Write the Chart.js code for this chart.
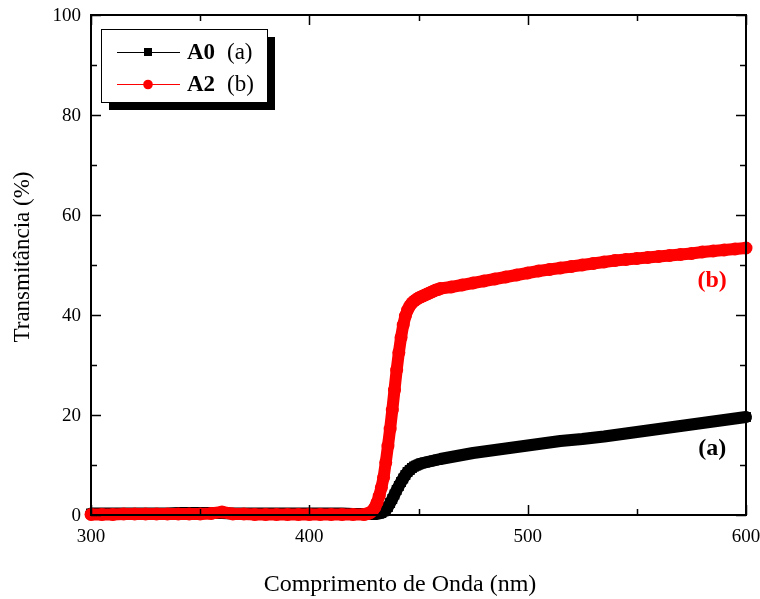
<!DOCTYPE html>
<html>
<head>
<meta charset="utf-8">
<script src="https://cdn.jsdelivr.net/npm/chart.js@4.4.0/dist/chart.umd.min.js"></script>
<style>
  html, body { margin: 0; padding: 0; background: #fff; }
  #wrap { width: 760px; height: 599px; }
</style>
</head>
<body>
<div id="wrap"><canvas id="c" width="760" height="599"></canvas></div>
<script>
// ---- data ----
const wavelengths = [
  300,305,310,315,320,325,330,335,340,345,350,355,360,365,370,375,380,385,390,395,400,405,410,415,420,425,
  426,427,428,429,430,431,432,433,434,435,436,437,438,439,440,441,442,443,444,445,446,447,448,449,450,
  451,452,453,454,455,456,457,458,459,460,
  465,470,475,480,485,490,495,500,505,510,515,520,525,530,535,540,545,550,555,560,565,570,575,580,585,590,595,600
];
const transA0 = [
  0.3,0.3,0.3,0.3,0.3,0.3,0.3,0.3,0.4,0.4,0.4,0.4,0.4,0.3,0.3,0.3,0.3,0.3,0.3,0.3,0.3,0.3,0.3,0.3,0.2,0.2,
  0.2,0.2,0.2,0.2,0.2,0.2,0.3,0.4,0.7,1.0,1.6,2.4,3.2,4.1,5.0,5.8,6.6,7.3,8.0,8.6,9.0,9.4,9.7,9.9,10.1,
  10.3,10.4,10.5,10.6,10.7,10.8,10.9,11.0,11.1,11.2,
  11.6,12.0,12.4,12.7,13.0,13.3,13.6,13.9,14.2,14.5,14.8,15.0,15.2,15.45,15.7,16.0,16.3,16.6,16.9,17.2,17.5,17.8,18.1,18.4,18.7,19.0,19.3,19.6
];
const transA2 = [
  0.1,0.1,0.1,0.2,0.2,0.2,0.2,0.2,0.2,0.2,0.2,0.3,0.6,0.2,0.2,0.1,0.1,0.1,0.1,0.1,0.1,0.1,0.1,0.1,0.1,0.1,
  0.2,0.3,0.5,0.9,1.5,2.5,3.8,5.5,7.5,10.5,13.8,17.2,21.0,25.0,29.0,32.5,35.5,38.0,39.8,41.0,41.8,42.4,42.8,43.1,43.4,
  43.6,43.8,44.0,44.2,44.4,44.6,44.8,45.0,45.1,45.3,
  45.6,46.0,46.4,46.8,47.2,47.6,48.0,48.4,48.8,49.1,49.4,49.7,50.0,50.3,50.6,50.9,51.1,51.3,51.5,51.7,51.9,52.1,52.3,52.6,52.8,53.0,53.2,53.4
];
const seriesNames = ['A0', 'A2'];
const seriesTags = ['(a)', '(b)'];
const seriesColors = ['#000000', '#ff0000'];
const xTickValues = [300, 400, 500, 600];
const xMinorValues = [350, 450, 550];
const yTickValues = [0, 20, 40, 60, 80, 100];
const yMinorValues = [10, 30, 50, 70, 90];
const xTitle = 'Comprimento de Onda (nm)';
const yTitle = 'Transmitância (%)';

const SERIF = '"Liberation Serif", "Times New Roman", serif';

function toPoints(xs, ys) { return xs.map((x, i) => ({ x: x, y: ys[i] })); }

const decorations = {
  id: 'decorations',
  afterDatasetsDraw(chart) {
    const ctx = chart.ctx;
    const a = chart.chartArea;
    const xs = chart.scales.x, ys = chart.scales.y;
    ctx.save();
    ctx.strokeStyle = '#000';
    ctx.lineWidth = 2;
    ctx.strokeRect(a.left, a.top, a.right - a.left, a.bottom - a.top);
    ctx.lineWidth = 1.5;
    const majL = 10, minL = 6;
    ctx.beginPath();
    const xt = (v, L) => {
      const p = Math.round(xs.getPixelForValue(v)) + 0.5;
      ctx.moveTo(p, a.bottom); ctx.lineTo(p, a.bottom - L);
      ctx.moveTo(p, a.top); ctx.lineTo(p, a.top + L);
    };
    const yt = (v, L) => {
      const p = Math.round(ys.getPixelForValue(v)) + 0.5;
      ctx.moveTo(a.left, p); ctx.lineTo(a.left + L, p);
      ctx.moveTo(a.right, p); ctx.lineTo(a.right - L, p);
    };
    xTickValues.forEach(v => xt(v, majL));
    xMinorValues.forEach(v => xt(v, minL));
    yTickValues.forEach(v => yt(v, majL));
    yMinorValues.forEach(v => yt(v, minL));
    ctx.stroke();

    // tick labels
    ctx.fillStyle = '#000';
    ctx.font = '19px ' + SERIF;
    ctx.textBaseline = 'middle';
    ctx.textAlign = 'center';
    xTickValues.forEach(v => ctx.fillText(String(v), xs.getPixelForValue(v), a.bottom + 22));
    ctx.textAlign = 'right';
    yTickValues.forEach(v => ctx.fillText(String(v), a.left - 10, ys.getPixelForValue(v) + 1));

    // curve tags
    ctx.font = 'bold 24px ' + SERIF;
    ctx.textAlign = 'center';
    ctx.textBaseline = 'middle';
    ctx.fillStyle = seriesColors[1];
    ctx.fillText(seriesTags[1], xs.getPixelForValue(584.5), ys.getPixelForValue(46.8));
    ctx.fillStyle = seriesColors[0];
    ctx.fillText(seriesTags[0], xs.getPixelForValue(584.5), ys.getPixelForValue(13.2));

    // legend box with shadow
    const bx = 101, by = 29, bw = 166, bh = 73, sh = 8;
    ctx.fillStyle = '#000';
    ctx.fillRect(bx + sh, by + sh, bw, bh);
    ctx.fillStyle = '#fff';
    ctx.fillRect(bx, by, bw, bh);
    ctx.lineWidth = 1;
    ctx.strokeStyle = '#000';
    ctx.strokeRect(bx + 0.5, by + 0.5, bw, bh);
    const rows = [52, 84];
    seriesNames.forEach((name, i) => {
      const y = rows[i];
      ctx.strokeStyle = seriesColors[i];
      ctx.lineWidth = 1;
      ctx.beginPath();
      ctx.moveTo(117, y + 0.5); ctx.lineTo(180, y + 0.5);
      ctx.stroke();
      ctx.fillStyle = seriesColors[i];
      if (i === 0) {
        ctx.fillRect(144, y - 4, 8, 8);
      } else {
        ctx.beginPath(); ctx.arc(148, y + 0.5, 4.8, 0, Math.PI * 2); ctx.fill();
      }
      ctx.fillStyle = '#000';
      ctx.textAlign = 'left';
      ctx.textBaseline = 'middle';
      ctx.font = 'bold 23px ' + SERIF;
      ctx.fillText(name, 187, y + 1);
      ctx.font = '23px ' + SERIF;
      ctx.fillText(seriesTags[i], 227, y + 1);
    });
    ctx.restore();
  },
  afterDraw(chart) {
    const ctx = chart.ctx;
    ctx.save();
    ctx.fillStyle = '#000';
    ctx.font = '24px ' + SERIF;
    ctx.textAlign = 'center';
    ctx.textBaseline = 'alphabetic';
    ctx.fillText(xTitle, 400, 591);
    ctx.translate(29, 257);
    ctx.rotate(-Math.PI / 2);
    ctx.font = '23px ' + SERIF;
    ctx.fillText(yTitle, 0, 0);
    ctx.restore();
  }
};

new Chart(document.getElementById('c'), {
  type: 'line',
  data: {
    datasets: [
      {
        label: seriesNames[0],
        data: toPoints(wavelengths, transA0),
        borderColor: seriesColors[0],
        backgroundColor: seriesColors[0],
        borderWidth: 12,
        borderJoinStyle: 'round',
        borderCapStyle: 'round',
        pointStyle: 'rect',
        pointRadius: 7,
        pointBorderWidth: 0,
        pointBackgroundColor: seriesColors[0],
        tension: 0,
        clip: false,
        order: 1
      },
      {
        label: seriesNames[1],
        data: toPoints(wavelengths, transA2),
        borderColor: seriesColors[1],
        backgroundColor: seriesColors[1],
        borderWidth: 12,
        borderJoinStyle: 'round',
        borderCapStyle: 'round',
        pointStyle: 'circle',
        pointRadius: 6.5,
        pointBorderWidth: 0,
        pointBackgroundColor: seriesColors[1],
        tension: 0,
        clip: false,
        order: 0
      }
    ]
  },
  options: {
    responsive: false,
    animation: false,
    events: [],
    layout: { padding: { top: 15, right: 14, left: 0, bottom: 0 } },
    plugins: { legend: { display: false }, tooltip: { enabled: false }, title: { display: false } },
    scales: {
      x: {
        type: 'linear', min: 300, max: 600,
        grid: { display: false, drawTicks: false },
        border: { display: false },
        ticks: { display: false, stepSize: 100 },
        afterFit(s) { s.height = 84; }
      },
      y: {
        type: 'linear', min: 0, max: 100,
        grid: { display: false, drawTicks: false },
        border: { display: false },
        ticks: { display: false, stepSize: 20 },
        afterFit(s) { s.width = 91; }
      }
    }
  },
  plugins: [decorations]
});
</script>
</body>
</html>
